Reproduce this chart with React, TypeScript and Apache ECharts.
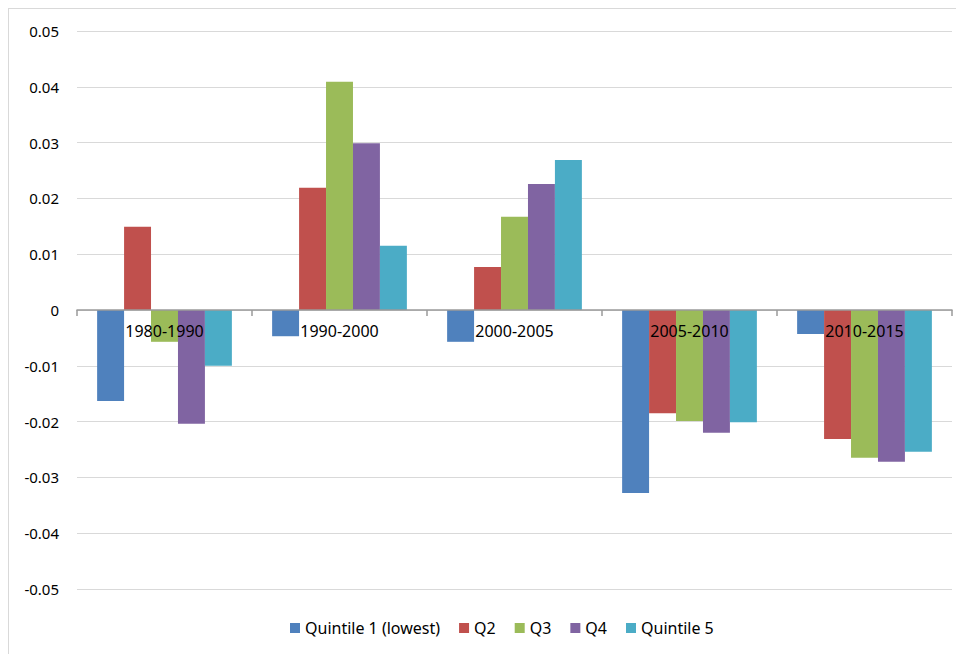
import React, { useEffect, useRef } from "react";
import * as echarts from "echarts";

const categories = ["1980-1990", "1990-2000", "2000-2005", "2005-2010", "2010-2015"];
const seriesNames = ["Quintile 1 (lowest)", "Q2", "Q3", "Q4", "Quintile 5"];
const quintile1 = [-0.0163, -0.0047, -0.0057, -0.0328, -0.0043];
const q2 = [0.0149, 0.0219, 0.0077, -0.0185, -0.0231];
const q3 = [-0.0057, 0.0409, 0.0167, -0.0199, -0.0265];
const q4 = [-0.0204, 0.0299, 0.0226, -0.022, -0.0272];
const quintile5 = [-0.01, 0.0115, 0.0269, -0.0201, -0.0254];
const colors = ["#4F81BD", "#C0504D", "#9BBB59", "#8064A2", "#4BACC6"];

const FONT = "'Noto Sans', 'Open Sans', sans-serif";

export default function App() {
  const ref = useRef<HTMLDivElement>(null);
  useEffect(() => {
    if (!ref.current) return;
    const chart = echarts.init(ref.current, null, { renderer: "svg" });
    const data = [quintile1, q2, q3, q4, quintile5];
    chart.setOption({
      animation: false,
      color: colors,
      textStyle: { fontFamily: FONT },
      grid: { left: 68, right: 12, top: 22, bottom: 65 },
      legend: {
        left: 276,
        top: 606,
        itemWidth: 10,
        itemHeight: 10,
        itemGap: 19,
        icon: "rect",
        textStyle: { fontSize: 16, color: "#000", fontFamily: FONT },
        data: seriesNames,
      },
      xAxis: {
        type: "category",
        data: categories,
        z: 5,
        position: "bottom",
        offset: -279,
        axisLine: { onZero: false, lineStyle: { color: "#9a9a9a", width: 1.5 } },
        axisTick: { show: true, interval: 0, length: 6, lineStyle: { color: "#9a9a9a", width: 1.5 } },
        axisLabel: { color: "#000", fontSize: 16, margin: 13, fontFamily: FONT },
        splitLine: { show: false },
      },
      yAxis: {
        type: "value",
        min: -0.05,
        max: 0.05,
        interval: 0.01,
        axisLine: { show: false },
        axisTick: { show: false },
        axisLabel: {
          color: "#000",
          fontSize: 15,
          margin: 18,
          fontFamily: FONT,
          formatter: (v: number) => (Math.abs(v) < 1e-9 ? "0" : v.toFixed(2)),
        },
        splitLine: { lineStyle: { color: "#d9d9d9", width: 1 } },
      },
      series: seriesNames.map((name, i) => ({
        name,
        type: "bar",
        data: data[i],
        barGap: "0%",
        barCategoryGap: "23%",
        itemStyle: { color: colors[i] },
      })),
    });
    return () => chart.dispose();
  }, []);
  return (
    <div
      style={{
        width: 955,
        height: 645,
        borderTop: "1px solid #d9d9d9",
        borderLeft: "1px solid #d9d9d9",
        background: "#fff",
      }}
    >
      <div ref={ref} style={{ width: 955, height: 645 }} />
    </div>
  );
}
